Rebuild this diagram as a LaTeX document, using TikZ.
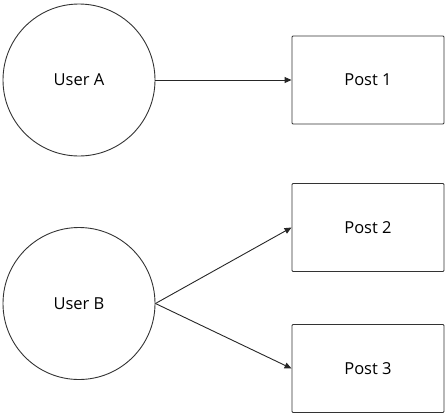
\documentclass[tikz,border=0pt]{standalone}
\usepackage{fontspec}
\setmainfont{Open Sans}
\usetikzlibrary{arrows.meta}
\begin{document}
\begin{tikzpicture}[x=1pt,y=-1pt,
  user/.style={circle,draw=black!80,line width=0.9pt,minimum size=152pt,inner sep=0pt,font=\fontsize{16.5}{20}\selectfont},
  post/.style={rectangle,draw=black!80,line width=0.9pt,rounded corners=1pt,minimum width=152pt,minimum height=88pt,inner sep=0pt,font=\fontsize{16.5}{20}\selectfont},
  link/.style={draw=black!85,line width=0.9pt,-{Triangle[length=7pt,width=6pt]}}]
\useasboundingbox (0,0) rectangle (447,416);
\node[user] (ua) at (79,80) {User A};
\node[user] (ub) at (79,303.5) {User B};
\node[post] (p1) at (368,80) {Post 1};
\node[post] (p2) at (368,227.5) {Post 2};
\node[post] (p3) at (368,368.5) {Post 3};
\draw[link] (ua) -- (p1.west);
\draw[link] (ub.east) -- (p2.west);
\draw[link] (ub.east) -- (p3.west);
\end{tikzpicture}
\end{document}
